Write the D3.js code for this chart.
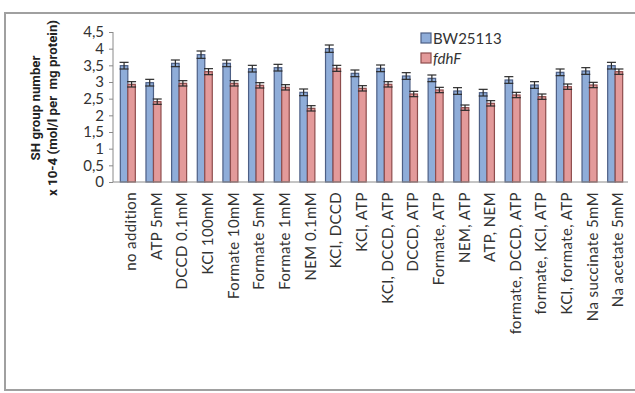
<!DOCTYPE html>
<html>
<head>
<meta charset="utf-8">
<script src="https://cdn.jsdelivr.net/npm/d3@7"></script>
<style>
  body { margin: 0; background: #fff; }
  svg { display: block; }
  .tick text { font-family: "Lato", "DejaVu Sans", sans-serif; }
</style>
</head>
<body>
<div id="chart"></div>
<script>
// SH group content by treatment, wild type vs fdhF mutant
const CATEGORIES = ["no addition", "ATP 5mM", "DCCD 0.1mM", "KCl 100mM", "Formate 10mM",
  "Formate 5mM", "Formate 1mM", "NEM 0.1mM", "KCl, DCCD", "KCl, ATP",
  "KCl, DCCD, ATP", "DCCD, ATP", "Formate, ATP", "NEM, ATP", "ATP, NEM",
  "formate, DCCD, ATP", "formate, KCl, ATP", "KCl, formate, ATP", "Na succinate 5mM", "Na acetate 5mM"];
const BW25113 = [3.49, 2.98, 3.56, 3.82, 3.56, 3.40, 3.43, 2.69, 4.00, 3.26,
  3.41, 3.18, 3.11, 2.73, 2.68, 3.06, 2.91, 3.29, 3.33, 3.49];
const FDHF = [2.93, 2.41, 2.96, 3.31, 2.96, 2.90, 2.84, 2.21, 3.41, 2.81,
  2.93, 2.64, 2.76, 2.23, 2.36, 2.61, 2.56, 2.86, 2.91, 3.31];
const BW_ERR = [0.1, 0.1, 0.1, 0.11, 0.1, 0.1, 0.1, 0.1, 0.11, 0.1,
  0.1, 0.1, 0.1, 0.1, 0.1, 0.1, 0.1, 0.1, 0.1, 0.1];
const FDHF_ERR = [0.08, 0.08, 0.08, 0.09, 0.08, 0.08, 0.08, 0.08, 0.09, 0.08,
  0.08, 0.08, 0.08, 0.08, 0.08, 0.08, 0.08, 0.08, 0.08, 0.08];
const Y_TICKS = [0, 0.5, 1, 1.5, 2, 2.5, 3, 3.5, 4, 4.5];
const SERIES = [
  { name: "BW25113", values: BW25113, err: BW_ERR, fill: "#8fadd9", stroke: "#4d5f85", italic: false },
  { name: "fdhF", values: FDHF, err: FDHF_ERR, fill: "#e39a9a", stroke: "#8e4d4d", italic: true }
];

const W = 635, H = 393;
const svg = d3.select("#chart").append("svg").attr("width", W).attr("height", H);

// outer frame (runs off the right edge like the source)
svg.append("path").attr("d", `M${W + 5},13 H5 V390 H${W + 5}`)
    .attr("fill", "none").attr("stroke", "#a0a0a0").attr("stroke-width", 2);

const x = d3.scaleBand().domain(CATEGORIES).range([115, 628]);
const y = d3.scaleLinear().domain([0, 4.5]).range([182, 32]);
const bw = 7.5;

// y axis
const yAxis = svg.append("g").attr("transform", "translate(113,0)")
    .call(d3.axisLeft(y).tickValues(Y_TICKS).tickSize(4).tickPadding(5)
      .tickFormat(d => String(d).replace(".", ",")));
yAxis.select(".domain").attr("stroke", "#8a8a8a").attr("d", `M0,${y(0)}V${y(4.5)}`);
yAxis.selectAll(".tick line").attr("stroke", "#8a8a8a");
yAxis.selectAll(".tick text").attr("font-size", 15).attr("fill", "#333");

// bars
SERIES.forEach((s, si) => {
  const off = x.bandwidth() / 2 - bw + si * bw;
  svg.append("g").selectAll("rect").data(s.values).join("rect")
      .attr("x", (d, i) => x(CATEGORIES[i]) + off)
      .attr("y", d => y(d))
      .attr("width", bw).attr("height", d => y(0) - y(d))
      .attr("fill", s.fill).attr("stroke", s.stroke).attr("stroke-width", 1.2);
  // error bars
  const eb = svg.append("g").attr("stroke", "#2b2b2b").attr("stroke-width", 1.2);
  s.values.forEach((v, i) => {
    const cx = x(CATEGORIES[i]) + off + bw / 2;
    eb.append("line").attr("x1", cx).attr("x2", cx).attr("y1", y(v - s.err[i])).attr("y2", y(v + s.err[i]));
    [v - s.err[i], v + s.err[i]].forEach(e =>
      eb.append("line").attr("x1", cx - 4.5).attr("x2", cx + 4.5).attr("y1", y(e)).attr("y2", y(e)));
  });
});

// x axis
const xAxis = svg.append("g").attr("transform", `translate(0,${y(0)})`)
    .call(d3.axisBottom(x).tickSize(0).tickPadding(0));
xAxis.select(".domain").attr("stroke", "#8a8a8a").attr("d", "M113,0H628");
xAxis.selectAll(".tick text")
    .attr("font-family", "'Open Sans', sans-serif").attr("font-size", 15).attr("fill", "#333")
    .attr("letter-spacing", 0.4)
    .attr("transform", "rotate(-90)").attr("text-anchor", "end")
    .attr("x", -10).attr("y", 3).attr("dy", "0.35em");

// y title
const title = svg.append("text").attr("transform", "translate(0,108) rotate(-90)")
    .attr("text-anchor", "middle").attr("font-family", "Roboto, sans-serif")
    .attr("font-weight", "bold").attr("font-size", 13.3).attr("fill", "#222");
title.append("tspan").attr("x", 0).attr("y", 40).text("SH group number");
title.append("tspan").attr("x", 0).attr("y", 57).attr("xml:space", "preserve").text("x 10-4 (mol/l per  mg protein)");

// legend
const leg = svg.append("g").attr("transform", "translate(421,33)");
SERIES.forEach((s, i) => {
  const g = leg.append("g").attr("transform", `translate(0,${i * 20})`);
  g.append("rect").attr("width", 10).attr("height", 10)
      .attr("fill", s.fill).attr("stroke", s.stroke).attr("stroke-width", 1.2);
  g.append("text").attr("x", 12).attr("y", 10.5).text(s.name)
      .attr("font-family", "'Lato', sans-serif").attr("font-size", 15).attr("fill", "#333")
      .attr("font-style", s.italic ? "italic" : "normal");
});
</script>
</body>
</html>
